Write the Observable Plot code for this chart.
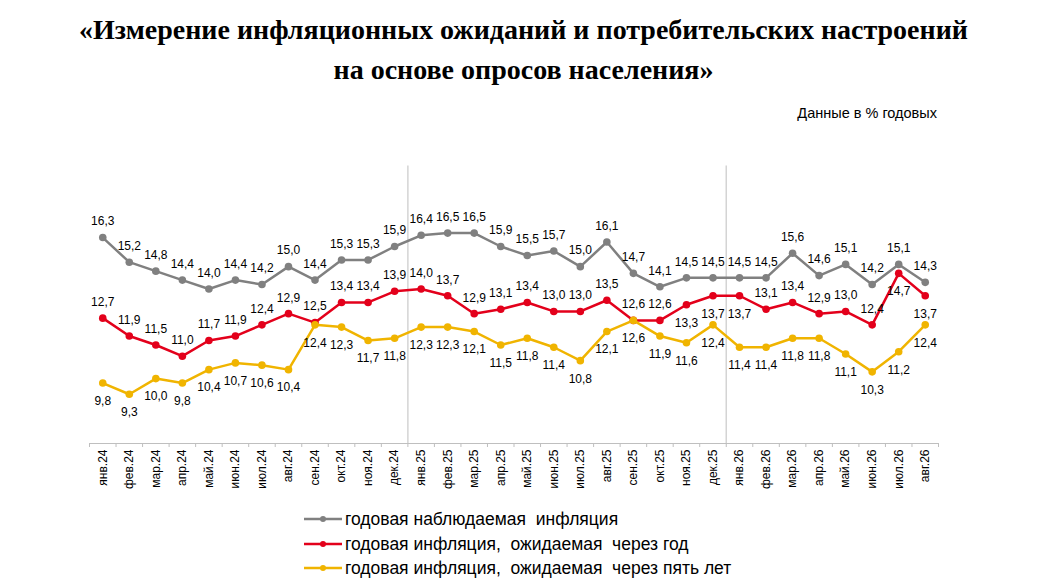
<!DOCTYPE html>
<html>
<head>
<meta charset="utf-8">
<script src="https://cdn.jsdelivr.net/npm/d3@7"></script>
<script src="https://cdn.jsdelivr.net/npm/@observablehq/plot@0.6"></script>
<style>
  html, body { margin: 0; padding: 0; background: #fff; }
  #page { position: relative; width: 1055px; height: 588px; overflow: hidden; font-family: "Liberation Sans", Arial, sans-serif; }
  #title { position: absolute; left: -4px; width: 1055px; top: 10px; text-align: center; font-family: "Liberation Serif", "Times New Roman", serif; font-weight: bold; font-size: 28px; line-height: 40px; color: #000; }
  #subtitle { position: absolute; right: 118px; top: 105px; font-size: 14.5px; color: #000; }
  #chart { position: absolute; left: 0; top: 140px; }
  .leg { position: absolute; left: 304px; height: 20px; display: flex; align-items: center; font-size: 17.5px; color: #000; white-space: pre; }
  .leg svg { margin-right: 3px; }
</style>
</head>
<body>
<div id="page">
  <div id="title">«Измерение инфляционных ожиданий и потребительских настроений<br>на основе опросов населения»</div>
  <div id="subtitle">Данные в % годовых</div>
  <div id="chart"></div>
  <div id="legend"></div>
</div>
<script>
const months = ["янв.24","фев.24","мар.24","апр.24","май.24","июн.24","июл.24","авг.24","сен.24","окт.24","ноя.24","дек.24",
  "янв.25","фев.25","мар.25","апр.25","май.25","июн.25","июл.25","авг.25","сен.25","окт.25","ноя.25","дек.25",
  "янв.26","фев.26","мар.26","апр.26","май.26","июн.26","июл.26","авг.26"];

const observed = [16.3,15.2,14.8,14.4,14.0,14.4,14.2,15.0,14.4,15.3,15.3,15.9,
  16.4,16.5,16.5,15.9,15.5,15.7,15.0,16.1,14.7,14.1,14.5,14.5,
  14.5,14.5,15.6,14.6,15.1,14.2,15.1,14.3];

const expected1y = [12.7,11.9,11.5,11.0,11.7,11.9,12.4,12.9,12.5,13.4,13.4,13.9,
  14.0,13.7,12.9,13.1,13.4,13.0,13.0,13.5,12.6,12.6,13.3,13.7,
  13.7,13.1,13.4,12.9,13.0,12.4,14.7,13.7];

const expected5y = [9.8,9.3,10.0,9.8,10.4,10.7,10.6,10.4,12.4,12.3,11.7,11.8,
  12.3,12.3,12.1,11.5,11.8,11.4,10.8,12.1,12.6,11.9,11.6,12.4,
  11.4,11.4,11.8,11.8,11.1,10.3,11.2,12.4];

// red labels placed below the point (month labels)
const redBelow = ["ноя.25","дек.25","янв.26","июл.26","авг.26"];
const yearSeparators = ["янв.25","янв.26"];

const seriesNames = ["годовая наблюдаемая  инфляция", "годовая инфляция,  ожидаемая  через год", "годовая инфляция,  ожидаемая  через пять лет"];
const colors = ["#808080", "#e3001b", "#f0b400"];

const yDomain = [7.1, 18];
const sepTop = 19.5;

const fmt = v => v.toFixed(1).replace(".", ",");
const series = [observed, expected1y, expected5y];
const rows = series.map((vals, s) => vals.map((v, i) => ({s, i, v, m: months[i]})));

const boundaries = d3.range(months.length + 1).map(k => k - 0.5);
const sepX = yearSeparators.map(m => months.indexOf(m) - 0.5);

const marks = [
  Plot.ruleX(sepX, {x: d => d, y1: yDomain[0], y2: sepTop, stroke: "#d4d4d4", strokeWidth: 1.5}),
  Plot.ruleY([yDomain[0]], {stroke: "#bfbfbf", strokeWidth: 1}),
  Plot.axisX({ticks: boundaries, tickFormat: () => "", tickSize: 4, stroke: "#bfbfbf", strokeOpacity: 1, label: null}),
  Plot.axisX({ticks: d3.range(months.length), tickFormat: i => months[i], tickSize: 0, tickPadding: 6, tickRotate: -90, fontSize: 12, fill: "#000", label: null})
];

rows.forEach((data, s) => {
  marks.push(Plot.line(data, {x: "i", y: "v", stroke: colors[s], strokeWidth: 2.5}));
  marks.push(Plot.dot(data, {x: "i", y: "v", fill: colors[s], r: 3.8}));
});

// labels
const above = [...rows[0], ...rows[1].filter(d => !redBelow.includes(d.m))];
const below = [...rows[1].filter(d => redBelow.includes(d.m)), ...rows[2]];
marks.push(Plot.text(above, {x: "i", y: "v", text: d => fmt(d.v), dy: -16, fontSize: 12, fill: "#000"}));
marks.push(Plot.text(below, {x: "i", y: "v", text: d => fmt(d.v), dy: 18, fontSize: 12, fill: "#000"}));

const chart = Plot.plot({
  width: 1055,
  height: 370,
  marginLeft: 89,
  marginRight: 117,
  marginTop: 59,
  marginBottom: 67,
  style: {fontFamily: "'Liberation Sans', Arial, sans-serif", fontSize: "12px", color: "#000", background: "transparent", overflow: "visible"},
  x: {type: "linear", domain: [-0.5, months.length - 0.5], axis: null},
  y: {domain: yDomain, axis: null},
  marks
});
document.getElementById("chart").appendChild(chart);

const legend = document.getElementById("legend");
const legTops = [509, 534, 558];
seriesNames.forEach((name, s) => {
  const div = document.createElement("div");
  div.className = "leg";
  div.style.top = legTops[s] + "px";
  div.innerHTML = `<svg width="38" height="10"><line x1="0" y1="5" x2="38" y2="5" stroke="${colors[s]}" stroke-width="2.5"/><circle cx="19" cy="5" r="3" fill="${colors[s]}"/></svg>`;
  const span = document.createElement("span");
  span.textContent = name;
  div.appendChild(span);
  legend.appendChild(div);
});
</script>
</body>
</html>
